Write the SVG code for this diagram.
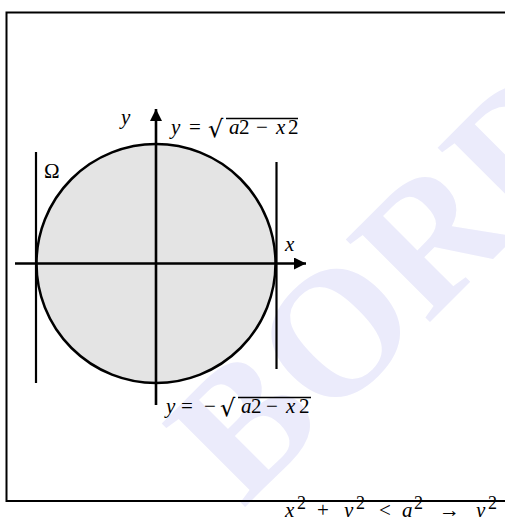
<svg xmlns="http://www.w3.org/2000/svg" width="505" height="517" viewBox="0 0 505 517">
<style>
.t{font-family:"Liberation Serif","Times New Roman",serif;font-size:21px;fill:#000}
.i{font-style:italic}
.r{font-family:"DejaVu Sans",sans-serif;font-size:24px}
.wm{font-family:"Liberation Serif","Times New Roman",serif;font-size:180px;font-weight:bold;fill:#ebebfb}
.ln{stroke:#000;fill:none}
</style>
<defs>
<marker id="ah" markerWidth="12" markerHeight="12" refX="12" refY="6" orient="auto" markerUnits="userSpaceOnUse">
<path d="M0,0 L12,6 L0,12 Z" fill="#000"/>
</marker>
</defs>
<rect width="505" height="517" fill="#fff"/>
<text class="wm" transform="translate(243,509) rotate(-45)">BORD</text>
<rect id="frame" x="6.5" y="12.5" width="520" height="488.5" fill="none" stroke="#000" stroke-width="2"/>
<g id="disk">
<circle cx="156" cy="263.5" r="119.5" fill="#e4e4e4" stroke="#000" stroke-width="2.5"/>
</g>
<g id="connectors">
<line class="ln" x1="36" y1="152" x2="36" y2="383" stroke-width="2.2"/>
<line class="ln" x1="276.5" y1="162" x2="276.5" y2="369" stroke-width="2.2"/>
<line class="ln" x1="156" y1="405" x2="156" y2="109" stroke-width="2.6" marker-end="url(#ah)"/>
<line class="ln" x1="15" y1="263.5" x2="306" y2="263.5" stroke-width="2.6" marker-end="url(#ah)"/>
</g>
<g id="labels">
<text class="t i" x="121" y="124">y</text>
<text class="t" x="44" y="178" font-size="19">Ω</text>
<text class="t i" x="285" y="251">x</text>
</g>
<g id="eq-top">
<text class="t"><tspan class="i" x="171" y="134">y</tspan><tspan x="189" y="134">=</tspan><tspan class="r" x="208" y="137">√</tspan><tspan class="i" x="229" y="134">a</tspan><tspan x="239" y="134">2</tspan><tspan x="256" y="134">−</tspan><tspan class="i" x="276" y="134">x</tspan><tspan x="288" y="134">2</tspan></text>
<line class="ln" x1="226" y1="118.5" x2="298" y2="118.5" stroke-width="1.3"/>
</g>
<g id="eq-bottom">
<text class="t"><tspan class="i" x="166" y="413">y</tspan><tspan x="181" y="413">=</tspan><tspan x="204" y="413">−</tspan><tspan class="r" x="220" y="416">√</tspan><tspan class="i" x="241" y="413">a</tspan><tspan x="251" y="413">2</tspan><tspan x="266" y="413">−</tspan><tspan class="i" x="286" y="413">x</tspan><tspan x="299" y="413">2</tspan></text>
<line class="ln" x1="238" y1="397.5" x2="311" y2="397.5" stroke-width="1.3"/>
</g>
<g id="eq-bottom-line">
<text class="t"><tspan class="i" x="285" y="517">x</tspan><tspan x="297" y="509" font-size="18">2</tspan><tspan x="317" y="517">+</tspan><tspan class="i" x="344" y="517">y</tspan><tspan x="356" y="509" font-size="18">2</tspan><tspan x="379" y="517">&lt;</tspan><tspan class="i" x="402" y="517">a</tspan><tspan x="414" y="509" font-size="18">2</tspan><tspan x="439" y="517">→</tspan><tspan class="i" x="476" y="517">y</tspan><tspan x="488" y="509" font-size="18">2</tspan></text>
</g>
</svg>
